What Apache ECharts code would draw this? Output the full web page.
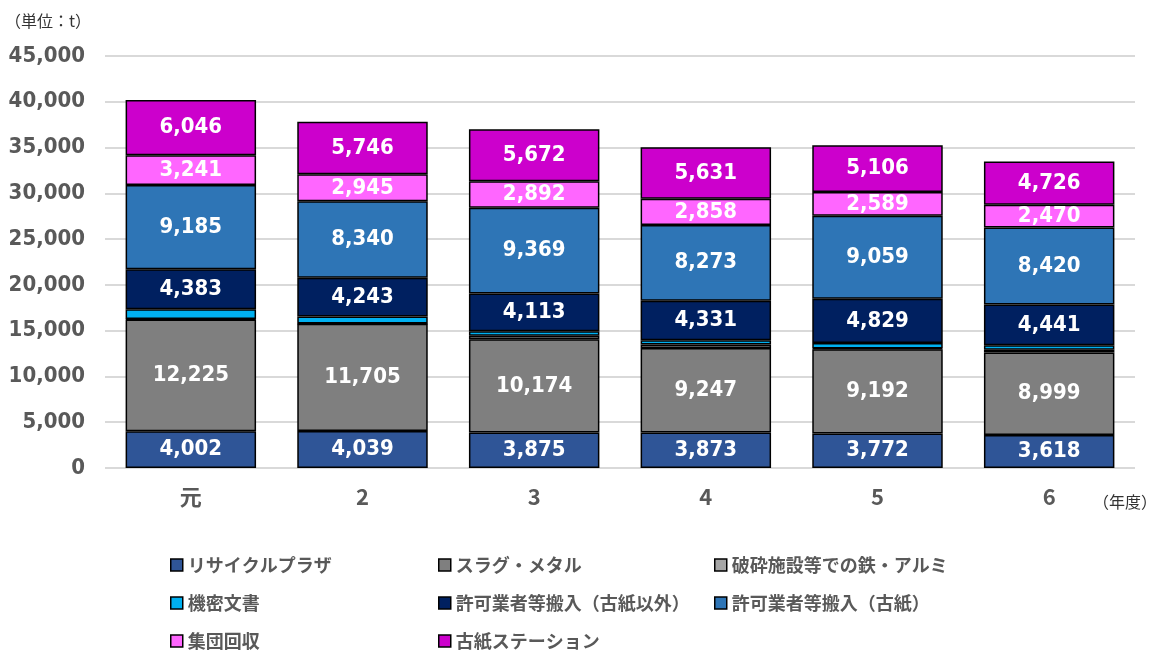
<!DOCTYPE html>
<html>
<head>
<meta charset="utf-8">
<script src="https://cdn.jsdelivr.net/npm/echarts@6/dist/echarts.min.js"></script>
<style>
  html, body { margin: 0; padding: 0; background: #fff; }
  #chart { width: 1155px; height: 651px; }
</style>
</head>
<body>
<div id="chart"></div>
<script>
// 年度
var years = ['元', '2', '3', '4', '5', '6'];
// 各項目 (t)
var recyclePlaza = [4002, 4039, 3875, 3873, 3772, 3618];
var slagMetal = [12225, 11705, 10174, 9247, 9192, 8999];
var hasaiIron = [60, 40, 400, 380, 100, 300];
var kimitsu = [1050, 760, 500, 450, 600, 500];
var kyokaOther = [4383, 4243, 4113, 4331, 4829, 4441];
var kyokaPaper = [9185, 8340, 9369, 8273, 9059, 8420];
var shudan = [3241, 2945, 2892, 2858, 2589, 2470];
var koshiStation = [6046, 5746, 5672, 5631, 5106, 4726];

var narrow = "'DejaVu Sans Condensed', 'Noto Sans CJK JP', sans-serif";
var jp = "'Noto Sans CJK JP', sans-serif";

function fmt(v) {
    return String(v).replace(/\B(?=(\d{3})+(?!\d))/g, ',');
}

//系列を作る
function makeSeries(name, data, color, showLabel) {
    return {
        name: name,
        type: 'bar',
        stack: 'total',
        barWidth: '76%',
        data: data,
        itemStyle: {color: color, borderColor: '#000', borderWidth: 1.5},
        label: {
            show: showLabel,
            position: 'inside',
            color: '#fff',
            fontFamily: narrow,
            fontWeight: 'bold',
            fontSize: 22,
            formatter: function (p) { return fmt(p.value); }
        },
        emphasis: {disabled: true}
    };
}

var legendText = {color: '#595959', fontFamily: jp, fontWeight: 'bold', fontSize: 18, lineHeight: 18};
var legendBase = {
    orient: 'vertical',
    top: 556,
    height: 95,
    padding: 0,
    icon: 'rect',
    itemWidth: 12,
    itemHeight: 12,
    itemGap: 20,
    textStyle: legendText,
    itemStyle: {borderColor: '#000', borderWidth: 1.5},
    selectedMode: false
};

var option = {
    animation: false,
    backgroundColor: '#fff',
    grid: {left: 105, right: 20, top: 56, bottom: 183, containLabel: false},
    title: [
        {text: '（単位：t）', left: 0, top: 8, textStyle: {fontFamily: jp, fontWeight: 'normal', fontSize: 16, color: '#333'}},
        {text: '（年度）', left: 1088, top: 489, textStyle: {fontFamily: jp, fontWeight: 'normal', fontSize: 16, color: '#333'}}
    ],
    legend: [
        Object.assign({}, legendBase, {left: 170, data: ['リサイクルプラザ', '機密文書', '集団回収']}),
        Object.assign({}, legendBase, {left: 438, data: ['スラグ・メタル', '許可業者等搬入（古紙以外）', '古紙ステーション']}),
        Object.assign({}, legendBase, {left: 714, data: ['破砕施設等での鉄・アルミ', '許可業者等搬入（古紙）']})
    ],
    xAxis: {
        type: 'category',
        data: years,
        axisLine: {show: false},
        axisTick: {show: false},
        axisLabel: {margin: 18, color: '#595959', fontFamily: jp, fontWeight: 'bold', fontSize: 22}
    },
    yAxis: {
        type: 'value',
        min: 0,
        max: 45000,
        interval: 5000,
        axisLine: {show: false},
        axisTick: {show: false},
        splitLine: {lineStyle: {color: '#d9d9d9', width: 2}},
        axisLabel: {
            margin: 20,
            color: '#595959',
            fontFamily: narrow,
            fontWeight: 'bold',
            fontSize: 22,
            formatter: function (v) { return fmt(v); }
        }
    },
    series: [
        makeSeries('リサイクルプラザ', recyclePlaza, '#2F5597', true),
        makeSeries('スラグ・メタル', slagMetal, '#7F7F7F', true),
        makeSeries('破砕施設等での鉄・アルミ', hasaiIron, '#A6A6A6', false),
        makeSeries('機密文書', kimitsu, '#00B0F0', false),
        makeSeries('許可業者等搬入（古紙以外）', kyokaOther, '#002060', true),
        makeSeries('許可業者等搬入（古紙）', kyokaPaper, '#2E75B6', true),
        makeSeries('集団回収', shudan, '#FF66FF', true),
        makeSeries('古紙ステーション', koshiStation, '#CC00CC', true)
    ]
};

var myChart = echarts.init(document.getElementById('chart'));
myChart.setOption(option);
</script>
</body>
</html>
